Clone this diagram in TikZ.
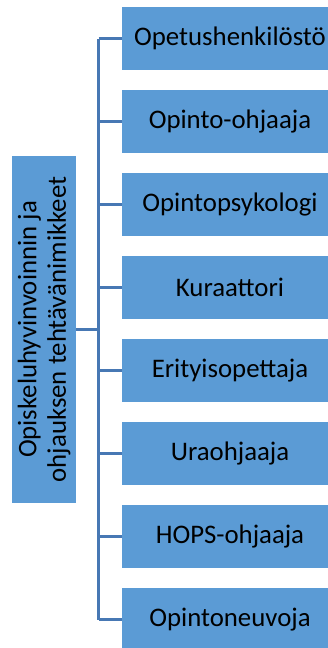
\documentclass[tikz,border=0pt]{standalone}
\usepackage{fontspec}
\setmainfont{Carlito}
\usetikzlibrary{positioning}

\definecolor{boxblue}{RGB}{91,155,213}
\definecolor{lineblue}{RGB}{71,120,180}

\tikzset{
  titlebox/.style={fill=boxblue, draw=none, minimum width=63pt, minimum height=205pt,
    inner sep=0pt, font=\fontsize{26.8}{29.5}\selectfont, text=black},
  leafbox/.style={fill=boxblue, draw=none, minimum width=216pt, minimum height=63pt,
    inner sep=0pt, font=\fontsize{26.8}{29.5}\selectfont, text=black},
  link/.style={draw=lineblue, line width=2.4pt}
}

\begin{document}
\begin{tikzpicture}[x=1pt, y=-1pt, line cap=butt, line join=miter]

		% --- page frame (reference proportions) ---
		\useasboundingbox (0,0) rectangle (327,648);

		% --- Left: title box, written from bottom to top ---
		\node[titlebox, rotate=90, minimum width=347pt, minimum height=64pt, align=center]
			(title) at (44,329.5) {Opiskeluhyvinvoinnin ja\\ohjauksen tehtävänimikkeet};

		% --- Right: one box for each job title (cut off at the right edge) ---
		\node[leafbox] (b1) at (230,38.5)  {Opetushenkilöstö};
		\node[leafbox] (b2) at (230,121.5) {Opinto-ohjaaja};
		\node[leafbox] (b3) at (230,204.5) {Opintopsykologi};
		\node[leafbox] (b4) at (230,287.5) {Kuraattori};
		\node[leafbox] (b5) at (230,370.5) {Erityisopettaja};
		\node[leafbox] (b6) at (230,453.5) {Uraohjaaja};
		\node[leafbox] (b7) at (230,536.5) {HOPS-ohjaaja};
		\node[leafbox] (b8) at (230,619.5) {Opintoneuvoja};

		% --- Connectors: stub, spine and branches ---
		\coordinate (spine) at (98.5,329.5);
		\draw[link] (title.south) -- (spine);
		\draw[link] (spine |- b1.west) -- (spine |- b8.west);
		\draw[link] (spine |- b1.west) -- (b1.west);
		\draw[link] (spine |- b2.west) -- (b2.west);
		\draw[link] (spine |- b3.west) -- (b3.west);
		\draw[link] (spine |- b4.west) -- (b4.west);
		\draw[link] (spine |- b5.west) -- (b5.west);
		\draw[link] (spine |- b6.west) -- (b6.west);
		\draw[link] (spine |- b7.west) -- (b7.west);
		\draw[link] (spine |- b8.west) -- (b8.west);

	\end{tikzpicture}
\end{document}
